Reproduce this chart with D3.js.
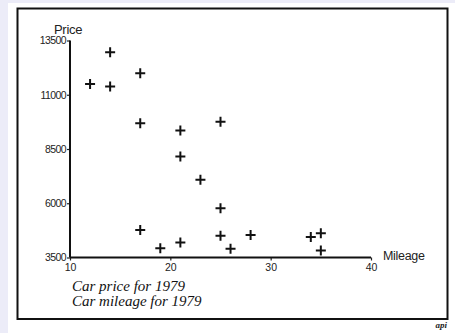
<!DOCTYPE html>
<html>
<head>
<meta charset="utf-8">
<script src="https://cdn.jsdelivr.net/npm/d3@7"></script>
<style>
  body { margin: 0; background: #ececf8; }
  svg { display: block; }
</style>
</head>
<body>
<svg id="chart" width="455" height="333"></svg>
<script>
// car data, 1979
const mileage = [12, 14, 14, 17, 17, 21, 25, 21, 23, 25, 17, 19, 21, 25, 26, 28, 34, 35, 35];
const price = [11500, 12960, 11380, 11990, 9690, 9350, 9760, 8150, 7080, 5770, 4770, 3930, 4190, 4500, 3900, 4540, 4440, 4620, 3820];
const xTicks = [10, 20, 30, 40];
const yTicks = [3500, 6000, 8500, 11000, 13500];
const captions = ["Car price for 1979", "Car mileage for 1979"];

const svg = d3.select("#chart"),
    width = +svg.attr("width"),
    height = +svg.attr("height");

// white paper + frame
svg.append("rect")
    .attr("x", 8).attr("y", 3)
    .attr("width", width - 8).attr("height", height - 3)
    .attr("fill", "#fff");
svg.append("rect")
    .attr("x", 17.5).attr("y", 8.5)
    .attr("width", 430).attr("height", 310.5)
    .attr("fill", "none")
    .attr("stroke", "#111")
    .attr("stroke-width", 2);

const x = d3.scaleLinear().domain([10, 40]).range([70, 371]);
const y = d3.scaleLinear().domain([3500, 13500]).range([257.5, 40.5]);

// axes
const xAxis = svg.append("g")
    .attr("transform", `translate(0,${y(3500)})`)
    .call(d3.axisBottom(x).tickValues(xTicks).tickSize(3).tickPadding(3).tickFormat(d3.format("d")));
const yAxis = svg.append("g")
    .attr("transform", `translate(${x(10)},0)`)
    .call(d3.axisLeft(y).tickValues(yTicks).tickSize(3).tickPadding(1).tickFormat(d3.format("d")));

[xAxis, yAxis].forEach(g => {
  g.select(".domain").remove();
  g.selectAll("line").attr("stroke", "#222").attr("stroke-width", 1.2);
  g.selectAll("text")
    .attr("fill", "#222")
    .style("font-family", "Liberation Sans, Arial, sans-serif")
    .style("font-size", "10.5px");
});
yAxis.selectAll("text").style("letter-spacing", "-0.6px");

// thick axis lines
svg.append("line")
    .attr("x1", x(10)).attr("x2", x(40))
    .attr("y1", y(3500)).attr("y2", y(3500))
    .attr("stroke", "#111").attr("stroke-width", 2);
svg.append("line")
    .attr("x1", x(10)).attr("x2", x(10))
    .attr("y1", y(3500)).attr("y2", y(13500))
    .attr("stroke", "#111").attr("stroke-width", 2);

// axis titles
svg.append("text")
    .attr("x", 54).attr("y", 34)
    .text("Price")
    .style("font-family", "Liberation Sans, Arial, sans-serif")
    .style("font-size", "13px")
    .style("letter-spacing", "-0.3px")
    .attr("fill", "#222");
svg.append("text")
    .attr("x", 383).attr("y", 260)
    .text("Mileage")
    .style("font-family", "Liberation Sans, Arial, sans-serif")
    .style("font-size", "12.5px")
    .style("letter-spacing", "-0.3px")
    .attr("fill", "#222");

// plus markers
const pts = mileage.map((m, i) => ({m: m, p: price[i]}));
svg.selectAll("path.pt")
  .data(pts)
  .join("path")
    .attr("class", "pt")
    .attr("d", d => {
      const cx = x(d.m), cy = y(d.p), r = 5;
      return `M${cx - r},${cy}H${cx + r}M${cx},${cy - r}V${cy + r}`;
    })
    .attr("stroke", "#111")
    .attr("stroke-width", 2)
    .attr("fill", "none");

// captions
svg.selectAll("text.cap")
  .data(captions)
  .join("text")
    .attr("class", "cap")
    .attr("x", 72)
    .attr("y", (d, i) => 291 + i * 15)
    .text(d => d)
    .style("font-family", "Liberation Serif, Times New Roman, serif")
    .style("font-style", "italic")
    .style("font-size", "15px")
    .attr("fill", "#111");

svg.append("text")
    .attr("x", 447).attr("y", 328)
    .attr("text-anchor", "end")
    .text("api")
    .style("font-family", "Liberation Serif, serif")
    .style("font-style", "italic")
    .style("font-weight", "bold")
    .style("font-size", "9px")
    .attr("fill", "#222");
</script>
</body>
</html>
